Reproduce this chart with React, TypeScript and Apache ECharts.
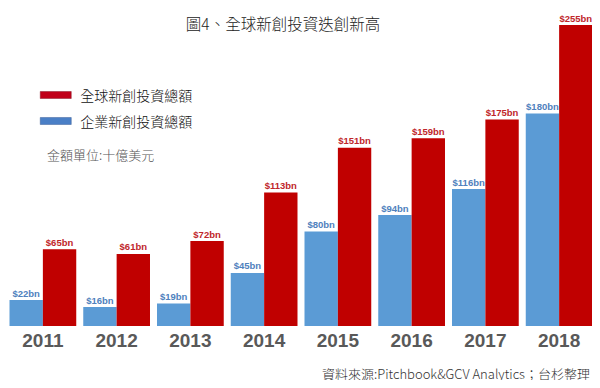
import React, { useEffect, useRef } from "react";
import * as echarts from "echarts";

const years = ["2011", "2012", "2013", "2014", "2015", "2016", "2017", "2018"];
const corporate = [22, 16, 19, 45, 80, 94, 116, 180];
const globalTotal = [65, 61, 72, 113, 151, 159, 175, 255];
const seriesNames = ["全球新創投資總額", "企業新創投資總額"];

const CJK = "'Noto Sans CJK TC', 'Noto Sans', sans-serif";
const LAT = "'Liberation Sans', Arial, sans-serif";

export default function App() {
  const ref = useRef<HTMLDivElement>(null);
  useEffect(() => {
    const chart = echarts.init(ref.current!, null, { renderer: "svg" });
    chart.setOption({
      animation: false,
      backgroundColor: "#ffffff",
      title: {
        text: "圖4、全球新創投資迭創新高",
        left: 278,
        textAlign: "center",
        top: 10,
        textStyle: { fontFamily: CJK, fontSize: 15.5, fontWeight: 300, color: "#222" },
      },
      legend: {
        orient: "vertical",
        left: 35,
        top: 83,
        itemWidth: 31,
        itemHeight: 7,
        itemGap: 12,
        textStyle: { fontFamily: CJK, fontSize: 14, fontWeight: 300, color: "#111", padding: [0, 0, 0, 4] },
        data: [
          { name: seriesNames[0], icon: "rect", itemStyle: { color: "#c0001a", borderColor: "#8a1a2a", borderWidth: 0.5 } },
          { name: seriesNames[1], icon: "rect", itemStyle: { color: "#4a7fc6", borderColor: "#3b5f96", borderWidth: 0.5 } },
        ],
      },
      graphic: [
        {
          type: "text",
          left: 47,
          top: 148,
          style: { text: "金額單位:十億美元", fontFamily: CJK, fontSize: 13, fontWeight: 300, fill: "#555" },
        },
        {
          type: "text",
          right: 10,
          top: 367,
          style: { text: "資料來源:Pitchbook&GCV Analytics；台杉整理", fontFamily: CJK, fontSize: 13, fontWeight: 300, fill: "#333" },
        },
      ],
      grid: { left: 6, right: 4, top: 25, bottom: 62, containLabel: false },
      xAxis: {
        type: "category",
        data: years,
        axisLine: { show: false },
        axisTick: { show: false },
        axisLabel: {
          fontFamily: LAT,
          fontSize: 19,
          fontWeight: "bold",
          color: "#595959",
          margin: 5,
        },
      },
      yAxis: {
        type: "value",
        min: 0,
        max: 255,
        show: false,
        splitLine: { show: false },
      },
      series: [
        {
          name: seriesNames[1],
          type: "bar",
          data: corporate,
          barGap: "0%",
          barCategoryGap: "9.5%",
          itemStyle: { color: "#5b9bd5" },
          label: {
            show: true,
            position: "top",
            distance: 2,
            formatter: (p: any) => `$${p.value}bn`,
            fontFamily: LAT,
            fontSize: 9.5,
            fontWeight: "bold",
            color: "#4f81bd",
          },
        },
        {
          name: seriesNames[0],
          type: "bar",
          data: globalTotal,
          barGap: "0%",
          barCategoryGap: "9.5%",
          itemStyle: { color: "#c00000" },
          label: {
            show: true,
            position: "top",
            distance: 2,
            formatter: (p: any) => `$${p.value}bn`,
            fontFamily: LAT,
            fontSize: 9.5,
            fontWeight: "bold",
            color: "#c0262a",
          },
        },
      ],
    });
    return () => chart.dispose();
  }, []);
  return <div ref={ref} style={{ width: 600, height: 388, margin: -8 }} />;
}
